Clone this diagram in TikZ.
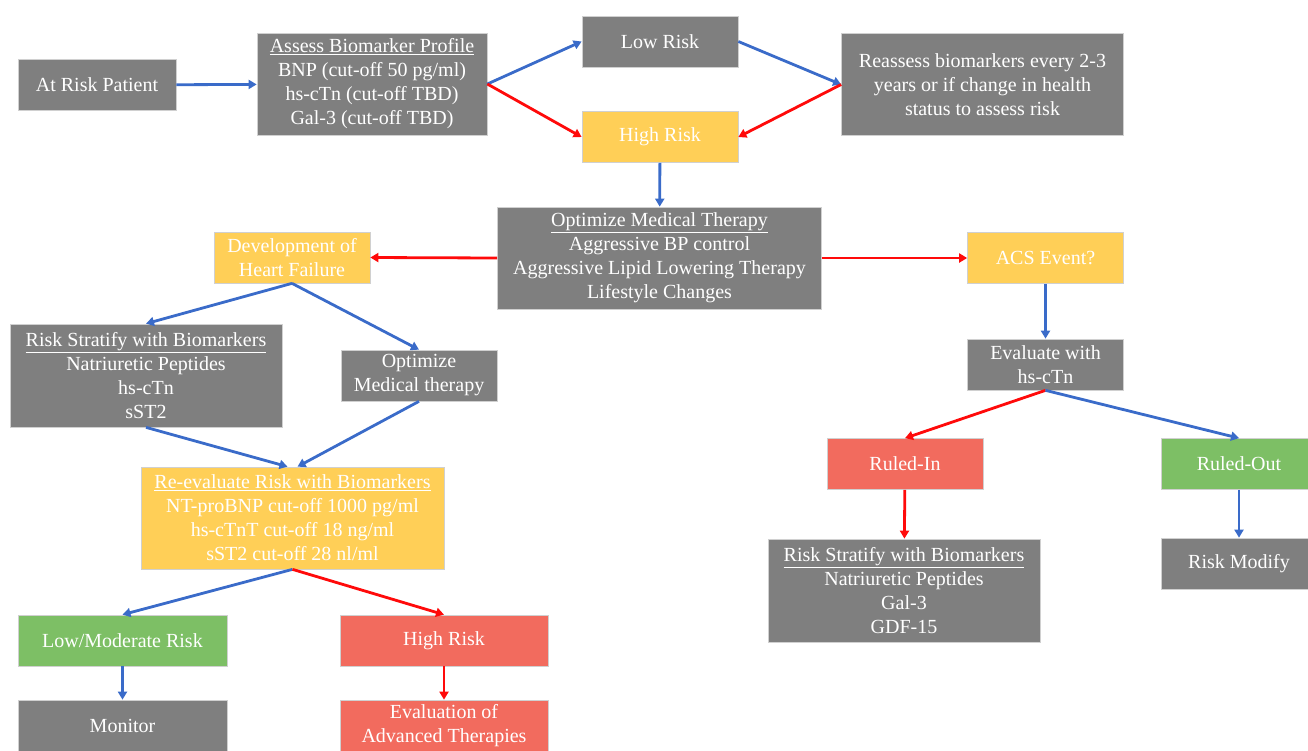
\documentclass[tikz,border=0pt]{standalone}
\usepackage{fontspec}
\setmainfont{Liberation Serif}
\newfontfamily\tnr{Liberation Serif}
\usetikzlibrary{arrows.meta}
\definecolor{boxgray}{HTML}{7F7F7F}
\definecolor{boxyellow}{HTML}{FFCF57}
\definecolor{boxred}{HTML}{F26B5E}
\definecolor{boxgreen}{HTML}{7DBF65}
\definecolor{arrblue}{HTML}{3A6BC9}
\definecolor{arrred}{HTML}{FF0A0A}
\definecolor{boxedge}{HTML}{D0D0D0}
\tikzset{
  x=1pt, y=1pt,
  fbox/.style={rectangle, inner sep=0pt, text=white, align=center, draw=boxedge, line width=0.7pt,
    font=\tnr\fontsize{20}{24}\selectfont},
  graybox/.style={fbox, fill=boxgray},
  yellowbox/.style={fbox, fill=boxyellow},
  redbox/.style={fbox, fill=boxred},
  greenbox/.style={fbox, fill=boxgreen},
  sz/.style n args={2}{minimum width=#1pt, minimum height=#2pt},
  barr/.style={draw=arrblue, line width=2.8pt, -{Triangle[length=8pt,width=9pt]}},
  rarr/.style={draw=arrred, line width=2.8pt, -{Triangle[length=8pt,width=9pt]}},
}
\begin{document}
\begin{tikzpicture}
\useasboundingbox (0,0) rectangle (1308,-750);
% top row
\node[graybox, sz={158}{51}] (arp) at (97,-85) {At Risk Patient};
\node[graybox, sz={230}{102}] (abp) at (372,-84) {\underline{Assess Biomarker Profile}\\BNP (cut-off 50 pg/ml)\\hs-cTn (cut-off TBD)\\Gal-3 (cut-off TBD)};
\node[graybox, sz={156}{51}] (lowr) at (660,-41.5) {Low Risk};
\node[yellowbox, sz={156}{51}] (highr) at (660,-137) {High Risk};
\node[graybox, sz={282}{102}] (reas) at (982.5,-84.5) {Reassess biomarkers every 2-3\\years or if change in health\\status to assess risk};
% middle
\node[graybox, sz={324}{102}] (omt) at (659.5,-258) {\underline{Optimize Medical Therapy}\\Aggressive BP control\\Aggressive Lipid Lowering Therapy\\Lifestyle Changes};
\node[yellowbox, sz={156}{51}] (dhf) at (292,-257.5) {Development of\\Heart Failure};
\node[yellowbox, sz={156}{51}] (acs) at (1045.5,-258) {ACS Event?};
\node[graybox, sz={272}{103}] (rsl) at (146,-375.5) {\underline{Risk Stratify with Biomarkers}\\Natriuretic Peptides\\hs-cTn\\sST2};
\node[graybox, sz={156}{51}] (oms) at (419,-375.5) {Optimize\\Medical therapy};
\node[graybox, sz={156}{51}] (evh) at (1045.5,-364.5) {Evaluate with\\hs-cTn};
\node[yellowbox, sz={303}{102}] (rev) at (292.5,-518) {\underline{Re-evaluate Risk with Biomarkers}\\NT-proBNP cut-off 1000 pg/ml\\hs-cTnT cut-off 18 ng/ml\\sST2 cut-off 28 nl/ml};
\node[redbox, sz={156}{51}] (rin) at (905,-464) {Ruled-In};
\node[greenbox, sz={156}{51}] (rout) at (1239,-464) {Ruled-Out};
\node[graybox, sz={272}{103}] (rsr) at (904,-590.5) {\underline{Risk Stratify with Biomarkers}\\Natriuretic Peptides\\Gal-3\\GDF-15};
\node[graybox, sz={156}{51}] (rmod) at (1239,-563.5) {Risk Modify};
\node[greenbox, sz={209}{51}] (lmr) at (122.5,-640.5) {Low/Moderate Risk};
\node[redbox, sz={208}{51}] (hrb) at (444,-640.5) {High Risk};
\node[graybox, sz={209}{52}] (mon) at (122.5,-726) {Monitor};
\node[redbox, sz={208}{52}] (eat) at (444,-726) {Evaluation of\\Advanced Therapies};
% arrows
\draw[barr] (arp) -- (abp);
\draw[barr] (abp.east) -- (lowr.west);
\draw[rarr] (abp.east) -- (highr.west);
\draw[barr] (lowr.east) -- (reas.west);
\draw[rarr] (reas.west) -- (highr.east);
\draw[barr] (highr) -- (omt);
\draw[rarr] (omt.west) -- (dhf.east);
\draw[rarr] (omt.east) -- (acs.west);
\draw[barr] (dhf.south) -- (rsl.north);
\draw[barr] (dhf.south) -- (oms.north);
\draw[barr] (rsl.south) -- ([xshift=-5pt]rev.north);
\draw[barr] (oms.south) -- ([xshift=5pt]rev.north);
\draw[barr] (acs) -- (evh);
\draw[rarr] (evh.south) -- (rin.north);
\draw[barr] (evh.south) -- (rout.north);
\draw[rarr] (rin) -- (rsr);
\draw[barr] (rout) -- (rmod);
\draw[barr] (rev.south) -- (lmr.north);
\draw[rarr] (rev.south) -- (hrb.north);
\draw[barr] (lmr) -- (mon);
\draw[rarr] (hrb) -- (eat);
\end{tikzpicture}
\end{document}
